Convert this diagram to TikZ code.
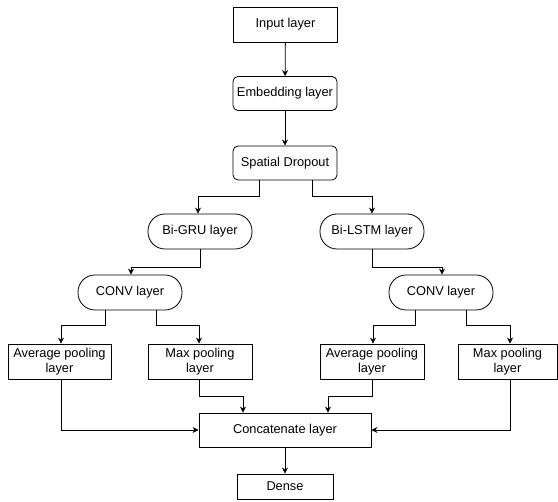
\documentclass[tikz,border=0pt]{standalone}
\usepackage{fontspec}
\setmainfont{Liberation Sans}
\usetikzlibrary{arrows.meta}
\begin{document}
\begin{tikzpicture}[x=1pt, y=-1pt, >={Stealth[length=6pt,width=6pt]},
  every node/.style={font=\fontsize{12.8}{15}\selectfont, line width=0.8pt, inner sep=0pt},
  layerbox/.style={draw, minimum width=104pt, minimum height=35pt, align=center},
  softbox/.style={layerbox, rounded corners=5pt},
  pillbox/.style={layerbox, rounded corners=17pt},
  link/.style={->, line width=0.8pt}]
  \useasboundingbox (0, 0) rectangle (558, 502);
  % trunk
  \node[layerbox] (input) at (285.5, 24.5) {Input layer};
  \node[softbox, minimum height=34pt] (embed) at (285, 93.5) {Embedding layer};
  \node[softbox, minimum height=34pt] (drop) at (285, 163) {Spatial Dropout};
  % two recurrent branches
  \node[pillbox] (gru) at (200, 231.5) {Bi-GRU layer};
  \node[pillbox] (lstm) at (372, 231.5) {Bi-LSTM layer};
  \node[pillbox] (convA) at (130, 292.5) {CONV layer};
  \node[pillbox] (convB) at (441, 292.5) {CONV layer};
  % pooling
  \node[layerbox, minimum width=103pt] (avgA) at (59.5, 361.5) {Average pooling\\layer};
  \node[layerbox] (maxA) at (200, 361.5) {Max pooling\\layer};
  \node[layerbox] (avgB) at (372, 361.5) {Average pooling\\layer};
  \node[layerbox, minimum width=99pt] (maxB) at (507.5, 361.5) {Max pooling\\layer};
  % output
  \node[layerbox, minimum width=172pt, minimum height=34pt] (concat) at (285, 430) {Concatenate layer};
  \node[layerbox, minimum width=96pt, minimum height=25pt] (dense) at (285, 486.5) {Dense};

  \draw[link] (input) -- (embed);
  \draw[link] (embed) -- (drop);
  \draw[link] ([xshift=-26pt]drop.south) -- ++(0, 16) -| ([xshift=-2pt]gru.north);
  \draw[link] ([xshift=27pt]drop.south) -- ++(0, 16) -| (lstm.north);
  \draw[link] (gru.south) -- ++(0, 18) -| ([xshift=1pt]convA.north);
  \draw[link] (lstm.south) -- ++(0, 18) -| ([xshift=1pt]convB.north);
  \draw[link] ([xshift=-25pt]convA.south) -- ++(0, 15) -| ([xshift=1.5pt]avgA.north);
  \draw[link] ([xshift=26pt]convA.south) -- ++(0, 15) -| ([xshift=-1pt]maxA.north);
  \draw[link] ([xshift=-26pt]convB.south) -- ++(0, 15) -| ([xshift=1pt]avgB.north);
  \draw[link] ([xshift=25pt]convB.south) -- ++(0, 15) -| ([xshift=2.5pt]maxB.north);
  \draw[link] ([xshift=1.5pt]avgA.south) |- (concat.west);
  \draw[link] ([xshift=-1pt]maxA.south) -- ++(0, 17) -| ([xshift=-42pt]concat.north);
  \draw[link] (avgB.south) -- ++(0, 17) -| ([xshift=43pt]concat.north);
  \draw[link] ([xshift=2.5pt]maxB.south) |- (concat.east);
  \draw[link] (concat) -- (dense);
\end{tikzpicture}
\end{document}
